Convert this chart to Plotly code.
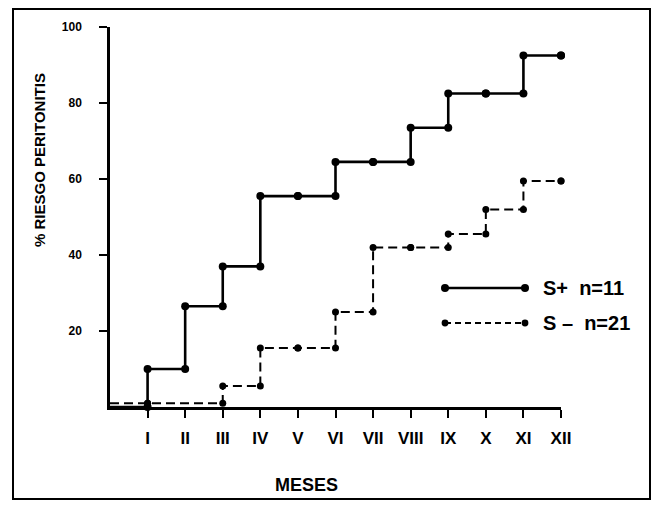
import plotly.graph_objects as go

# ---- data ----
month_labels = ["I", "II", "III", "IV", "V", "VI", "VII", "VIII", "IX", "X", "XI", "XII"]
month_ticks = list(range(1, 13))

splus_months = [0, 1, 2, 3, 4, 5, 6, 7, 8, 9, 10, 11, 12]
splus_values = [0, 10, 26.5, 37, 55.5, 55.5, 64.5, 64.5, 73.5, 82.5, 82.5, 92.5, 92.5]

sminus_months = [0, 1, 3, 4, 5, 6, 7, 8, 9, 10, 11, 12]
sminus_values = [1, 1, 5.5, 15.5, 15.5, 25, 42, 42, 45.5, 52, 59.5, 59.5]

y_ticks = [20, 40, 60, 80, 100]

legend_labels = ["S+  n=11", "S \u2013  n=21"]


def step_vertices(months, values):
    """Kaplan-Meier style step: horizontal then vertical at each month."""
    xs, ys = [months[0]], [values[0]]
    for i in range(1, len(months)):
        xs.append(months[i]); ys.append(values[i - 1])
        xs.append(months[i]); ys.append(values[i])
    return xs, ys


# page body has an 8px margin; the figure is offset by it
OFF = 8
W, H = 659 - OFF, 505 - OFF
ML, MR, MT, MB = 110 - OFF, 98, 27 - OFF, 98
PW, PH = W - ML - MR, H - MT - MB


def px2paper(px, py):
    """Window pixel position -> paper coordinates."""
    return (px - OFF - ML) / PW, (H - MB - (py - OFF)) / PH


FONT = "Liberation Sans, Arial, sans-serif"

fig = go.Figure()

sx, sy = step_vertices(splus_months, splus_values)
mx, my = step_vertices(sminus_months, sminus_values)

fig.add_trace(go.Scatter(x=sx, y=sy, mode="lines", line=dict(color="black", width=2.6),
                         showlegend=False, cliponaxis=False, hoverinfo="skip"))
fig.add_trace(go.Scatter(x=sx[1:], y=sy[1:], mode="markers",
                         marker=dict(color="black", size=8), showlegend=False,
                         cliponaxis=False))
fig.add_trace(go.Scatter(x=mx, y=my, mode="lines",
                         line=dict(color="black", width=2, dash="9px,5px"),
                         showlegend=False, cliponaxis=False, hoverinfo="skip"))
fig.add_trace(go.Scatter(x=mx[1:], y=my[1:], mode="markers",
                         marker=dict(color="black", size=7), showlegend=False,
                         cliponaxis=False))

shapes = []
# outer frame
fx0, fy0 = px2paper(13, 499)
fx1, fy1 = px2paper(650, 9)
shapes.append(dict(type="rect", xref="paper", yref="paper", x0=fx0, y0=fy0, x1=fx1, y1=fy1,
                   line=dict(color="black", width=2)))

# custom legend
annotations = []
leg_rows = [(288, "solid", 2.6, 4), (323, "6px,4px", 1.8, 3.4)]
for (py, dash, lw, r), label in zip(leg_rows, legend_labels):
    x0, y = px2paper(445, py)
    x1, _ = px2paper(525, py)
    shapes.append(dict(type="line", xref="paper", yref="paper", x0=x0, x1=x1, y0=y, y1=y,
                       line=dict(color="black", width=lw, dash=dash)))
    for xa in (x0, x1):
        shapes.append(dict(type="circle", xref="paper", yref="paper",
                           xsizemode="pixel", ysizemode="pixel",
                           xanchor=xa, yanchor=y, x0=-r, x1=r, y0=-r, y1=r,
                           fillcolor="black", line=dict(color="black", width=0)))
    tx, _ = px2paper(541, py)
    annotations.append(dict(text=label, xref="paper", yref="paper", x=tx, y=y,
                            xanchor="left", yanchor="middle", showarrow=False,
                            font=dict(family=FONT, size=20, color="black", weight="bold")))

ax, ay = px2paper(39, 160)
annotations.append(dict(text="% RIESGO PERITONITIS", xref="paper", yref="paper", x=ax, y=ay,
                        xanchor="center", yanchor="middle", textangle=-90, showarrow=False,
                        font=dict(family=FONT, size=15, color="black", weight="bold")))
mxp, myp = px2paper(306, 485)
annotations.append(dict(text="MESES", xref="paper", yref="paper", x=mxp, y=myp,
                        xanchor="center", yanchor="middle", showarrow=False,
                        font=dict(family=FONT, size=18, color="black", weight="bold")))

fig.update_layout(
    width=W, height=H,
    margin=dict(l=ML, r=MR, t=MT, b=MB, pad=0),
    paper_bgcolor="white", plot_bgcolor="white",
    showlegend=False,
    shapes=shapes, annotations=annotations,
    xaxis=dict(range=[0, 12], tickvals=month_ticks, ticktext=month_labels,
               showgrid=False, zeroline=False, showline=True, linecolor="black", linewidth=2.5,
               ticks="outside", ticklen=8, tickwidth=2, tickcolor="black",
               ticklabelstandoff=6,
               tickfont=dict(family=FONT, size=17, color="black", weight="bold")),
    yaxis=dict(range=[0, 100], tickvals=y_ticks,
               showgrid=False, zeroline=False, showline=True, linecolor="black", linewidth=2.5,
               ticks="outside", ticklen=8, tickwidth=2, tickcolor="black",
               ticklabelstandoff=15,
               tickfont=dict(family=FONT, size=12, color="black", weight="bold")),
)

fig.write_html("out.html")
